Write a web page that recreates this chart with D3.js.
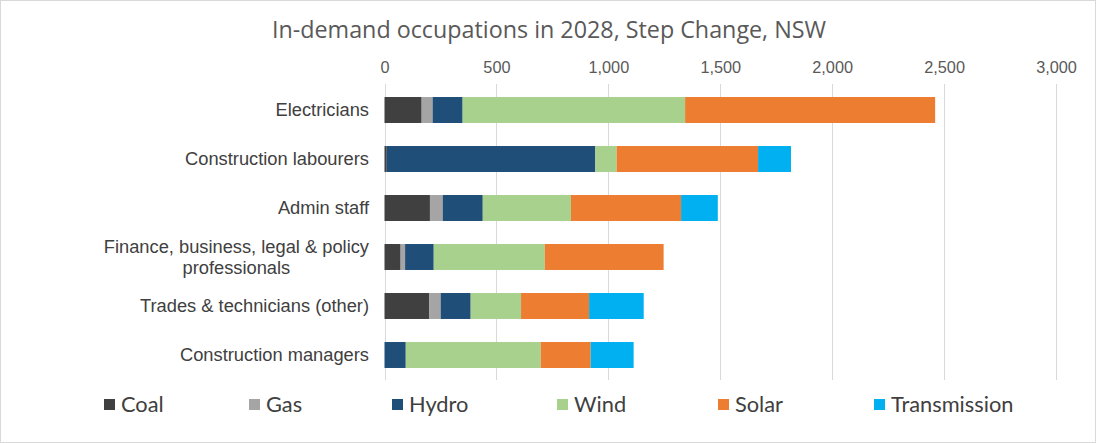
<!DOCTYPE html>
<html><head><meta charset="utf-8">
<script src="https://cdn.jsdelivr.net/npm/d3@7"></script>
<style>body{margin:0;background:#fff}svg{display:block}</style>
</head><body>
<svg id="c" width="1096" height="443"></svg>
<script>
const categories = ["Electricians","Construction labourers","Admin staff","Finance, business, legal & policy professionals","Trades & technicians (other)","Construction managers"];
const seriesNames = ["Coal","Gas","Hydro","Wind","Solar","Transmission"];
const coal = [166, 10, 203, 72, 199, 0];
const gas = [49, 0, 57, 20, 52, 0];
const hydro = [134, 932, 179, 128, 134, 95];
const wind = [994, 95, 394, 496, 225, 603];
const solar = [1117, 632, 492, 531, 304, 223];
const transmission = [0, 147, 164, 0, 244, 192];
const tickValues = [0, 500, 1000, 1500, 2000, 2500, 3000];
const colors = ["#404040","#A5A5A5","#1F4E79","#A9D18E","#ED7D31","#00B0F0"];
const title = "In-demand occupations in 2028, Step Change, NSW";

const seriesValues = [coal, gas, hydro, wind, solar, transmission];
const rows = categories.map((c,i)=>{const o={cat:c}; seriesNames.forEach((s,j)=>o[s]=seriesValues[j][i]); return o;});
const stacked = d3.stack().keys(seriesNames)(rows);

const svg = d3.select("#c");
const W=1096,H=443;
svg.append("rect").attr("x",0.5).attr("y",0.5).attr("width",W-1).attr("height",H-1).attr("fill","#fff").attr("stroke","#d9d9d9");

const x = d3.scaleLinear().domain([0,3000]).range([384.5,1056]);
const y = d3.scaleBand().domain(categories).range([85.5,379.5]).paddingInner(0.47).paddingOuter(0.235);

svg.append("text").attr("x",549).attr("y",38).attr("text-anchor","middle")
  .attr("font-family","Open Sans").attr("font-size",23.3).attr("fill","#595959").text(title);

// gridlines
svg.append("g").selectAll("line").data(tickValues).join("line")
  .attr("x1",d=>Math.round(x(d))+0.5).attr("x2",d=>Math.round(x(d))+0.5)
  .attr("y1",84).attr("y2",380).attr("stroke","#d9d9d9").attr("stroke-width",1);

// top axis
const ax = svg.append("g").attr("transform","translate(0,73)")
  .call(d3.axisTop(x).tickValues(tickValues).tickFormat(d3.format(",")).tickSize(0).tickPadding(0));
ax.select(".domain").remove();
ax.selectAll("text").attr("font-family","Liberation Sans, Arial, sans-serif").attr("font-size",16.3).attr("fill","#595959");

// bars
svg.append("g").selectAll("g").data(stacked).join("g").attr("fill",(d,i)=>colors[i])
  .selectAll("rect").data(d=>d.map(v=>({v,cat:v.data.cat}))).join("rect")
  .attr("x",d=>x(d.v[0])).attr("width",d=>x(d.v[1])-x(d.v[0]))
  .attr("y",d=>y(d.cat)).attr("height",y.bandwidth());

// category labels
const LF = "Liberation Sans, Arial, sans-serif", LS = 18.3;
const lab = svg.append("g");
categories.forEach(c=>{
  const cy = y(c)+y.bandwidth()/2;
  if (c.startsWith("Finance")) {
    const lines = ["Finance, business, legal & policy","professionals"];
    const t = lab.append("text").attr("font-family",LF).attr("font-size",LS).attr("fill","#404040");
    const tmp = t.append("tspan").text(lines[0]);
    const w = tmp.node().getComputedTextLength();
    tmp.remove();
    const cx = 369 - w/2;
    lines.forEach((l,k)=>t.append("tspan").attr("x",cx).attr("y",cy-4.5+k*21).attr("text-anchor","middle").text(l));
  } else {
    lab.append("text").attr("x",369).attr("y",cy+6).attr("text-anchor","end")
      .attr("font-family",LF).attr("font-size",LS).attr("fill","#404040").text(c);
  }
});

// legend
const legX = [104,249,392,557,718,874];
const lg = svg.append("g");
seriesNames.forEach((s,i)=>{
  lg.append("rect").attr("x",legX[i]).attr("y",399).attr("width",11).attr("height",11).attr("fill",colors[i]);
  lg.append("text").attr("x",legX[i]+17).attr("y",412).attr("font-family","Lato")
    .attr("font-size",21.8).attr("fill","#404040").text(s);
});
</script>
</body></html>
